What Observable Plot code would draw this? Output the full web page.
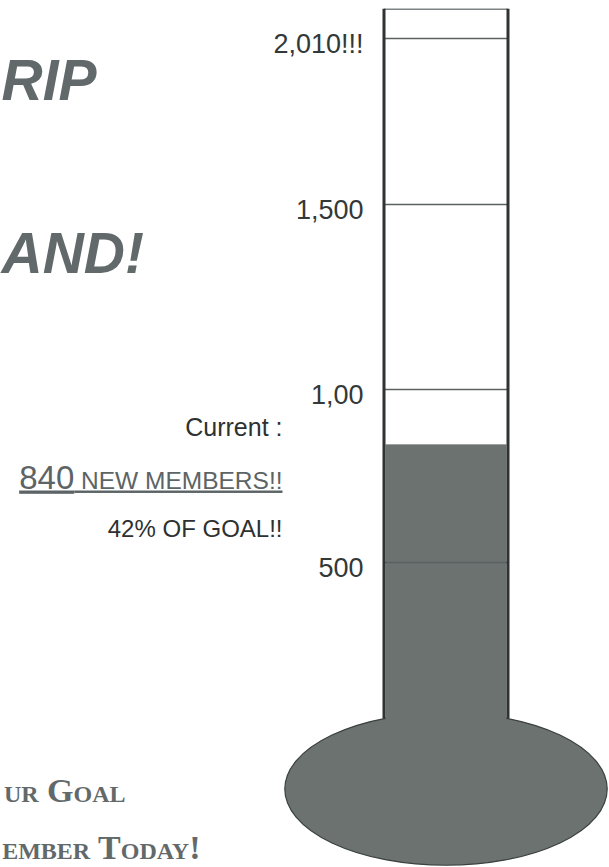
<!DOCTYPE html>
<html>
<head>
<meta charset="utf-8">
<script src="https://cdn.jsdelivr.net/npm/d3@7"></script>
<script src="https://cdn.jsdelivr.net/npm/@observablehq/plot@0.6"></script>
<style>
  html, body { margin: 0; padding: 0; background: #ffffff; }
  #chart svg { display: block; }
</style>
</head>
<body>
<div id="chart"></div>
<script>
// ---- data ----
const category = ["New members"];
const currentValue = [840];
const goalValue = [2010];
const baseValue = [0];
const tubeTopValue = [2100];
const tickValues = [500, 1000, 1500, 2010];
const tickLabels = ["500", "1,00", "1,500", "2,010!!!"];
const headlineTop = ["RIP"];
const headlineMid = ["AND!"];
const callToActionA = ["ur Goal"];
const callToActionB = ["ember Today!"];
const currentLabel = ["Current :"];

// ---- style ----
const W = 609, H = 867;
const ML = 384, MR = 101;
const fillGray = "#6b7270";
const wallColor = "#2f3333";
const textGray = "#62696a";

function geometry(scales) {
  const x = scales.x, y = scales.y;
  const x0 = x(category[0]);
  const bw = x.bandwidth();
  const cx = x0 + bw / 2;
  const cy = y(baseValue[0]) + 54;
  const rx = bw * 1.3, ry = bw * 0.615;
  const yj = cy - ry * Math.sqrt(1 - Math.pow((bw / 2) / rx, 2));
  return {x0, x1: x0 + bw, cx, cy, rx, ry, yj, yTop: y(tubeTopValue[0])};
}

function bulbMark(index, scales) {
  const g = geometry(scales);
  const svgNS = "http://www.w3.org/2000/svg";
  const el = document.createElementNS(svgNS, "ellipse");
  el.setAttribute("cx", g.cx);
  el.setAttribute("cy", g.cy);
  el.setAttribute("rx", g.rx);
  el.setAttribute("ry", g.ry);
  el.setAttribute("fill", fillGray);
  el.setAttribute("stroke", "#3a3f3f");
  el.setAttribute("stroke-width", 1.2);
  return el;
}

function wallMark(index, scales) {
  const g = geometry(scales);
  const svgNS = "http://www.w3.org/2000/svg";
  const el = document.createElementNS(svgNS, "path");
  el.setAttribute("d", `M${g.x0},${g.yTop}L${g.x0},${g.yj}M${g.x1},${g.yTop}L${g.x1},${g.yj}`);
  el.setAttribute("fill", "none");
  el.setAttribute("stroke", wallColor);
  el.setAttribute("stroke-width", 3);
  return el;
}

const goal = goalValue[0];
const pct = Math.round(currentValue[0] / goal * 100);

const sans = "Liberation Sans, Arial, sans-serif";
const serif = "Liberation Serif, Times New Roman, serif";

const svg = Plot.plot({
  width: W,
  height: H,
  marginLeft: ML,
  marginRight: MR,
  marginTop: 0,
  marginBottom: 0,
  style: {background: "#ffffff", overflow: "hidden"},
  x: {type: "band", domain: category, padding: 0, axis: null},
  y: {type: "linear", domain: tickValues, range: [562, 389, 204, 38], axis: null},
  marks: [
    bulbMark,
    Plot.barY(category, {
      x: d => d,
      y1: () => baseValue[0],
      y2: () => currentValue[0],
      fill: fillGray,
      insetLeft: 1.5,
      insetRight: 1.5
    }),
    Plot.ruleY(tickValues, {stroke: "#5b6161", strokeWidth: 1.3}),
    Plot.ruleY(tubeTopValue, {stroke: "#7d8282", strokeWidth: 1.6}),
    wallMark,
    Plot.text(tickValues, {
      y: d => d,
      text: (d, i) => tickLabels[i],
      frameAnchor: "left",
      textAnchor: "end",
      dx: -21,
      dy: 6,
      fontFamily: sans,
      fontSize: 27,
      fill: "#333838"
    }),
    // headline fragments
    Plot.text(headlineTop, {
      text: d => d, frameAnchor: "top-left", textAnchor: "start", lineAnchor: "bottom",
      dx: 1 - ML, dy: 99,
      fontFamily: sans, fontWeight: "bold", fontStyle: "italic",
      fontSize: 57, fill: textGray
    }),
    Plot.text(headlineMid, {
      text: d => d, frameAnchor: "top-left", textAnchor: "start", lineAnchor: "bottom",
      dx: 1 - ML, dy: 272,
      fontFamily: sans, fontWeight: "bold", fontStyle: "italic",
      fontSize: 57, fill: textGray
    }),
    // current status
    Plot.text(currentLabel, {
      text: d => d, frameAnchor: "top-left", textAnchor: "end", lineAnchor: "bottom",
      dx: 282 - ML, dy: 435,
      fontFamily: sans, fontSize: 25, fill: "#2d3131"
    }),
    Plot.text(currentValue, {
      text: d => `${d} NEW MEMBERS!!`, frameAnchor: "top-left", textAnchor: "end", lineAnchor: "bottom",
      dx: 282 - ML, dy: 488,
      fontFamily: sans, fontSize: 24.5, fill: "#5d6465"
    }),
    Plot.text([pct], {
      text: d => `${d}% OF GOAL!!`, frameAnchor: "top-left", textAnchor: "end", lineAnchor: "bottom",
      dx: 282 - ML, dy: 536,
      fontFamily: sans, fontSize: 24, fill: "#2d3131"
    }),
    // call to action fragments
    Plot.text(callToActionA, {
      text: d => d, frameAnchor: "top-left", textAnchor: "end", lineAnchor: "bottom",
      dx: 125 - ML, dy: 801,
      fontFamily: serif, fontWeight: "bold", fontVariant: "small-caps",
      fontSize: 34, fill: textGray
    }),
    Plot.text(callToActionB, {
      text: d => d, frameAnchor: "top-left", textAnchor: "end", lineAnchor: "bottom",
      dx: 200 - ML, dy: 858,
      fontFamily: serif, fontWeight: "bold", fontVariant: "small-caps",
      fontSize: 34, fill: textGray
    })
  ]
});

// mixed size number + underline for the current-members line
d3.select(svg).selectAll("text").filter(function() {
  return this.textContent.includes("NEW MEMBERS");
}).each(function() {
  const t = d3.select(this);
  const s = this.textContent;
  const idx = s.indexOf(" ");
  const num = s.slice(0, idx), rest = s.slice(idx);
  t.text(null);
  t.attr("text-decoration", "underline");
  t.append("tspan").attr("font-size", 33).text(num);
  t.append("tspan").text(rest);
});

document.getElementById("chart").appendChild(svg);
</script>
</body>
</html>
